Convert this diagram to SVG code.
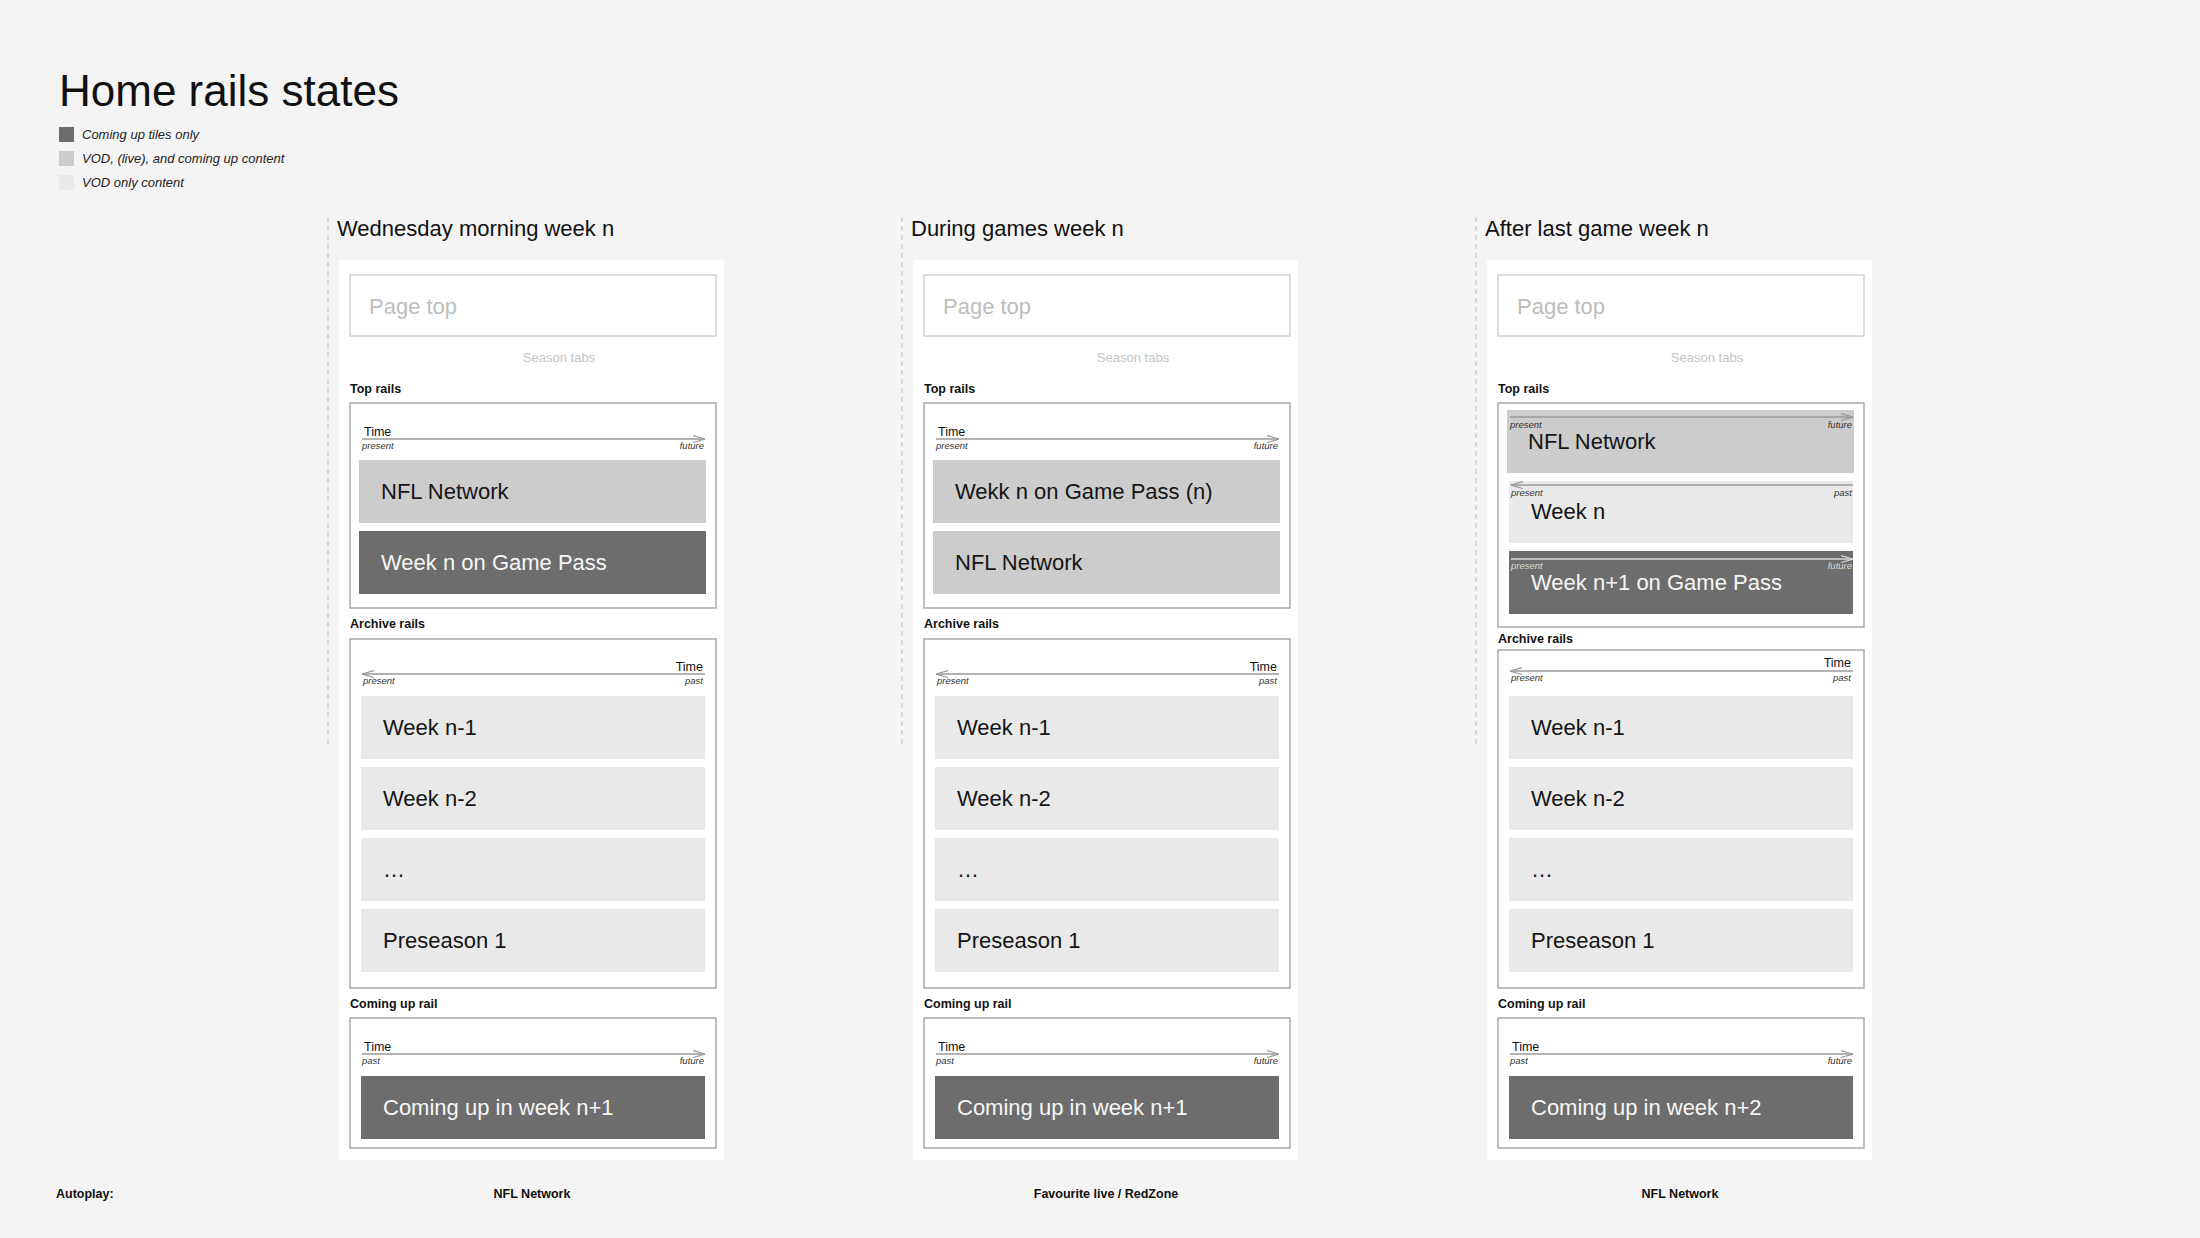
<svg xmlns="http://www.w3.org/2000/svg" width="2200" height="1238" viewBox="0 0 2200 1238">
<style>
text{font-family:"Liberation Sans",Arial,sans-serif;}
.title{font-size:44px;fill:#111;}
.legend{font-size:13px;font-style:italic;fill:#222;}
.heading{font-size:22px;fill:#111;}
.panel{fill:#ffffff;}
.pagetop{fill:#ffffff;stroke:#d2d2d2;stroke-width:1.5;}
.pagetoptxt{font-size:22px;fill:#bdbdbd;}
.season{font-size:13px;fill:#c4c4c4;text-anchor:middle;}
.label{font-size:12.5px;font-weight:bold;fill:#111;}
.railbox{fill:#ffffff;stroke:#aaaaaa;stroke-width:1.5;}
.time{font-size:12.5px;fill:#111;}
.small{font-size:9.5px;font-style:italic;fill:#333;}
.smalll{font-size:9.5px;font-style:italic;fill:#d8d8d8;}
.axis{stroke:#9a9a9a;stroke-width:1.3;fill:none;marker-end:url(#ah);}
.axisl{stroke:#d8d8d8;stroke-width:1.3;fill:none;marker-end:url(#ahl);}
.dark{fill:#6d6d6d;}
.mid{fill:#cccccc;}
.light{fill:#e9e9e9;}
.tt{font-size:22px;fill:#151515;}
.tw{font-size:22px;fill:#f6f6f6;}
.divider{stroke:#bbbbbb;stroke-width:1;stroke-dasharray:5 4;}
.auto{font-size:12.5px;font-weight:bold;fill:#111;}
.autoc{font-size:12.5px;font-weight:bold;fill:#111;text-anchor:middle;}
</style>
<defs>
<marker id="ah" viewBox="0 0 12 8" refX="12" refY="4" markerWidth="12" markerHeight="8" markerUnits="userSpaceOnUse" orient="auto">
<path d="M0,0.5 L12,4 L0,7.5" fill="none" stroke="#9a9a9a" stroke-width="1.2"/>
</marker>
<marker id="ahl" viewBox="0 0 12 8" refX="12" refY="4" markerWidth="12" markerHeight="8" markerUnits="userSpaceOnUse" orient="auto">
<path d="M0,0.5 L12,4 L0,7.5" fill="none" stroke="#d8d8d8" stroke-width="1.2"/>
</marker>
</defs>
<rect x="0" y="0" width="2200" height="1238" fill="#f4f4f4"/>

<g id="header">
<text class="title" x="59" y="106">Home rails states</text>
</g>
<g id="legend">
<rect x="59" y="127" width="15" height="15" class="dark"/>
<text class="legend" x="82" y="139">Coming up tiles only</text>
<rect x="59" y="151" width="15" height="15" class="mid"/>
<text class="legend" x="82" y="163">VOD, (live), and coming up content</text>
<rect x="59" y="175" width="15" height="15" class="light"/>
<text class="legend" x="82" y="187">VOD only content</text>
</g>
<g id="autoplay-label">
<text class="auto" x="56" y="1198">Autoplay:</text>
</g>

<g id="connectors"></g>

<!-- Column 1 -->
<g id="col-wednesday">
<line class="divider" x1="328" y1="217" x2="328" y2="748"/>
<text class="heading" x="337" y="236">Wednesday morning week n</text>
<rect class="panel" x="339" y="260" width="385" height="900"/>
<g id="c1-pagetop">
<rect class="pagetop" x="350" y="275" width="366" height="61"/>
<text class="pagetoptxt" x="369" y="314">Page top</text>
</g>
<text class="season" x="559" y="362">Season tabs</text>
<g id="c1-toprails">
<text class="label" x="350" y="393">Top rails</text>
<rect class="railbox" x="350" y="403" width="366" height="205"/>
<text class="time" x="364" y="436">Time</text>
<line class="axis" x1="362" y1="439" x2="705" y2="439"/>
<text class="small" x="362" y="449">present</text>
<text class="small" x="704" y="449" text-anchor="end">future</text>
<rect class="mid" x="359" y="460" width="347" height="63"/>
<text class="tt" x="381" y="499">NFL Network</text>
<rect class="dark" x="359" y="531" width="347" height="63"/>
<text class="tw" x="381" y="570">Week n on Game Pass</text>
</g>
<g id="c1-archive">
<text class="label" x="350" y="628">Archive rails</text>
<rect class="railbox" x="350" y="639" width="366" height="349"/>
<text class="time" x="703" y="671" text-anchor="end">Time</text>
<line class="axis" x1="705" y1="674" x2="362" y2="674"/>
<text class="small" x="363" y="684">present</text>
<text class="small" x="703" y="684" text-anchor="end">past</text>
<rect class="light" x="361" y="696" width="344" height="63"/>
<text class="tt" x="383" y="735">Week n-1</text>
<rect class="light" x="361" y="767" width="344" height="63"/>
<text class="tt" x="383" y="806">Week n-2</text>
<rect class="light" x="361" y="838" width="344" height="63"/>
<text class="tt" x="383" y="877">…</text>
<rect class="light" x="361" y="909" width="344" height="63"/>
<text class="tt" x="383" y="948">Preseason 1</text>
</g>
<g id="c1-comingup">
<text class="label" x="350" y="1008">Coming up rail</text>
<rect class="railbox" x="350" y="1018" width="366" height="130"/>
<text class="time" x="364" y="1051">Time</text>
<line class="axis" x1="362" y1="1054" x2="705" y2="1054"/>
<text class="small" x="362" y="1064">past</text>
<text class="small" x="704" y="1064" text-anchor="end">future</text>
<rect class="dark" x="361" y="1076" width="344" height="63"/>
<text class="tw" x="383" y="1115">Coming up in week n+1</text>
</g>
<text class="autoc" x="532" y="1198">NFL Network</text>
</g>

<!-- Column 2 -->
<g id="col-during" transform="translate(574,0)">
<line class="divider" x1="328" y1="217" x2="328" y2="748"/>
<text class="heading" x="337" y="236">During games week n</text>
<rect class="panel" x="339" y="260" width="385" height="900"/>
<g id="c2-pagetop">
<rect class="pagetop" x="350" y="275" width="366" height="61"/>
<text class="pagetoptxt" x="369" y="314">Page top</text>
</g>
<text class="season" x="559" y="362">Season tabs</text>
<g id="c2-toprails">
<text class="label" x="350" y="393">Top rails</text>
<rect class="railbox" x="350" y="403" width="366" height="205"/>
<text class="time" x="364" y="436">Time</text>
<line class="axis" x1="362" y1="439" x2="705" y2="439"/>
<text class="small" x="362" y="449">present</text>
<text class="small" x="704" y="449" text-anchor="end">future</text>
<rect class="mid" x="359" y="460" width="347" height="63"/>
<text class="tt" x="381" y="499">Wekk n on Game Pass (n)</text>
<rect class="mid" x="359" y="531" width="347" height="63"/>
<text class="tt" x="381" y="570">NFL Network</text>
</g>
<g id="c2-archive">
<text class="label" x="350" y="628">Archive rails</text>
<rect class="railbox" x="350" y="639" width="366" height="349"/>
<text class="time" x="703" y="671" text-anchor="end">Time</text>
<line class="axis" x1="705" y1="674" x2="362" y2="674"/>
<text class="small" x="363" y="684">present</text>
<text class="small" x="703" y="684" text-anchor="end">past</text>
<rect class="light" x="361" y="696" width="344" height="63"/>
<text class="tt" x="383" y="735">Week n-1</text>
<rect class="light" x="361" y="767" width="344" height="63"/>
<text class="tt" x="383" y="806">Week n-2</text>
<rect class="light" x="361" y="838" width="344" height="63"/>
<text class="tt" x="383" y="877">…</text>
<rect class="light" x="361" y="909" width="344" height="63"/>
<text class="tt" x="383" y="948">Preseason 1</text>
</g>
<g id="c2-comingup">
<text class="label" x="350" y="1008">Coming up rail</text>
<rect class="railbox" x="350" y="1018" width="366" height="130"/>
<text class="time" x="364" y="1051">Time</text>
<line class="axis" x1="362" y1="1054" x2="705" y2="1054"/>
<text class="small" x="362" y="1064">past</text>
<text class="small" x="704" y="1064" text-anchor="end">future</text>
<rect class="dark" x="361" y="1076" width="344" height="63"/>
<text class="tw" x="383" y="1115">Coming up in week n+1</text>
</g>
<text class="autoc" x="532" y="1198">Favourite live / RedZone</text>
</g>

<!-- Column 3 -->
<g id="col-after" transform="translate(1148,0)">
<line class="divider" x1="328" y1="217" x2="328" y2="748"/>
<text class="heading" x="337" y="236">After last game week n</text>
<rect class="panel" x="339" y="260" width="385" height="900"/>
<g id="c3-pagetop">
<rect class="pagetop" x="350" y="275" width="366" height="61"/>
<text class="pagetoptxt" x="369" y="314">Page top</text>
</g>
<text class="season" x="559" y="362">Season tabs</text>
<g id="c3-toprails">
<text class="label" x="350" y="393">Top rails</text>
<rect class="railbox" x="350" y="403" width="366" height="224"/>
<rect class="mid" x="359" y="410" width="347" height="63"/>
<line class="axis" x1="362" y1="417" x2="705" y2="417"/>
<text class="small" x="362" y="428">present</text>
<text class="small" x="704" y="428" text-anchor="end">future</text>
<text class="tt" x="380" y="449">NFL Network</text>
<rect class="light" x="361" y="481" width="344" height="62"/>
<line class="axis" x1="705" y1="485" x2="363" y2="485"/>
<text class="small" x="363" y="496">present</text>
<text class="small" x="704" y="496" text-anchor="end">past</text>
<text class="tt" x="383" y="519">Week n</text>
<rect class="dark" x="361" y="551" width="344" height="63"/>
<line class="axisl" x1="363" y1="559" x2="705" y2="559"/>
<text class="smalll" x="363" y="569">present</text>
<text class="smalll" x="704" y="569" text-anchor="end">future</text>
<text class="tw" x="383" y="590">Week n+1 on Game Pass</text>
</g>
<g id="c3-archive">
<text class="label" x="350" y="643">Archive rails</text>
<rect class="railbox" x="350" y="650" width="366" height="338"/>
<text class="time" x="703" y="667" text-anchor="end">Time</text>
<line class="axis" x1="705" y1="671" x2="362" y2="671"/>
<text class="small" x="363" y="681">present</text>
<text class="small" x="703" y="681" text-anchor="end">past</text>
<rect class="light" x="361" y="696" width="344" height="63"/>
<text class="tt" x="383" y="735">Week n-1</text>
<rect class="light" x="361" y="767" width="344" height="63"/>
<text class="tt" x="383" y="806">Week n-2</text>
<rect class="light" x="361" y="838" width="344" height="63"/>
<text class="tt" x="383" y="877">…</text>
<rect class="light" x="361" y="909" width="344" height="63"/>
<text class="tt" x="383" y="948">Preseason 1</text>
</g>
<g id="c3-comingup">
<text class="label" x="350" y="1008">Coming up rail</text>
<rect class="railbox" x="350" y="1018" width="366" height="130"/>
<text class="time" x="364" y="1051">Time</text>
<line class="axis" x1="362" y1="1054" x2="705" y2="1054"/>
<text class="small" x="362" y="1064">past</text>
<text class="small" x="704" y="1064" text-anchor="end">future</text>
<rect class="dark" x="361" y="1076" width="344" height="63"/>
<text class="tw" x="383" y="1115">Coming up in week n+2</text>
</g>
<text class="autoc" x="532" y="1198">NFL Network</text>
</g>
</svg>
